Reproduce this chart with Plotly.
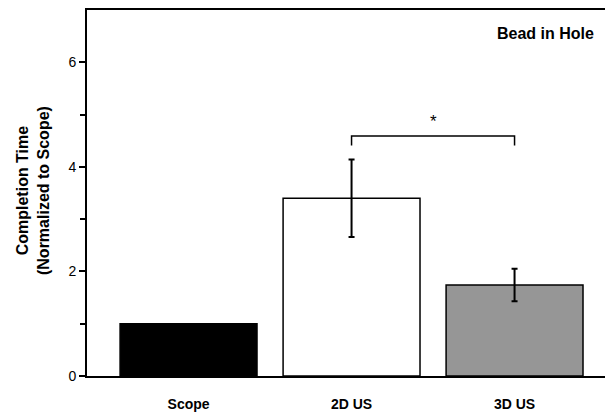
import plotly.graph_objects as go

categories = ["Scope", "2D US", "3D US"]
means = [1.0, 3.40, 1.74]
errors = [0.0, 0.74, 0.31]
bar_colors = ["#000000", "#ffffff", "#969696"]
y_ticks = [0, 2, 4, 6]
minor_ticks = [1, 3, 5]
sig_pair = [1, 2]
sig_y = 4.59
sig_drop = 0.18
panel_title = "Bead in Hole"
y_title = "Completion Time<br>(Normalized to Scope)"

xpos = list(range(len(categories)))
FONT = "Liberation Sans"

fig = go.Figure()
fig.add_trace(go.Bar(
    x=xpos, y=means, width=0.84,
    marker=dict(color=bar_colors, line=dict(color="black", width=1.5)),
    showlegend=False, hoverinfo="skip",
))
# error bars only where given
ex = [x for x, e in zip(xpos, errors) if e > 0]
ey = [m for m, e in zip(means, errors) if e > 0]
ee = [e for e in errors if e > 0]
fig.add_trace(go.Scatter(
    x=ex, y=ey, mode="markers", marker=dict(size=0.1, color="rgba(0,0,0,0)"),
    error_y=dict(type="data", array=ee, visible=True, color="black", thickness=2, width=3),
    showlegend=False, hoverinfo="skip",
))

# significance bracket
x0, x1 = sig_pair
fig.add_trace(go.Scatter(
    x=[x0, x0, x1, x1], y=[sig_y - sig_drop, sig_y, sig_y, sig_y - sig_drop],
    mode="lines", line=dict(color="black", width=1.5),
    showlegend=False, hoverinfo="skip",
))
fig.add_annotation(x=(x0 + x1) / 2, y=sig_y, yshift=15, text="*", showarrow=False,
                   xanchor="center", yanchor="middle",
                   font=dict(size=17, color="black", family=FONT))

fig.add_annotation(xref="paper", yref="paper", x=0.8726, y=0.937, text="<b>" + panel_title + "</b>",
                   showarrow=False, xanchor="center", yanchor="middle",
                   font=dict(size=16, color="black", family=FONT))
fig.add_annotation(xref="paper", yref="paper", x=-0.1036, y=0.5068, textangle=-90,
                   text="<b>" + y_title + "</b>", xanchor="center", yanchor="middle",
                   showarrow=False, font=dict(size=16, color="black", family=FONT))

# page body has an 8px margin, so the figure is sized/offset to compensate
fig.update_layout(
    width=605, height=406,
    margin=dict(l=79, r=0, t=2, b=38),
    paper_bgcolor="white", plot_bgcolor="white",
    font=dict(family=FONT, color="black", size=14),
    xaxis=dict(range=[-0.623, 2.604], tickvals=xpos,
               ticktext=["<b>" + c + "</b>" for c in categories],
               tickfont=dict(size=14), ticks="", ticklabelstandoff=14,
               showline=True, linecolor="black", linewidth=2, mirror=True,
               showgrid=False, zeroline=False),
    yaxis=dict(range=[0, 7], tickvals=y_ticks, ticks="outside", ticklen=6, tickwidth=1.5,
               tickcolor="black", tickfont=dict(size=14),
               minor=dict(tickvals=minor_ticks, ticks="outside", ticklen=5, tickwidth=1.5, tickcolor="black"),
               showline=True, linecolor="black", linewidth=2,
               showgrid=False, zeroline=False),
)

fig.write_html("out.html")
